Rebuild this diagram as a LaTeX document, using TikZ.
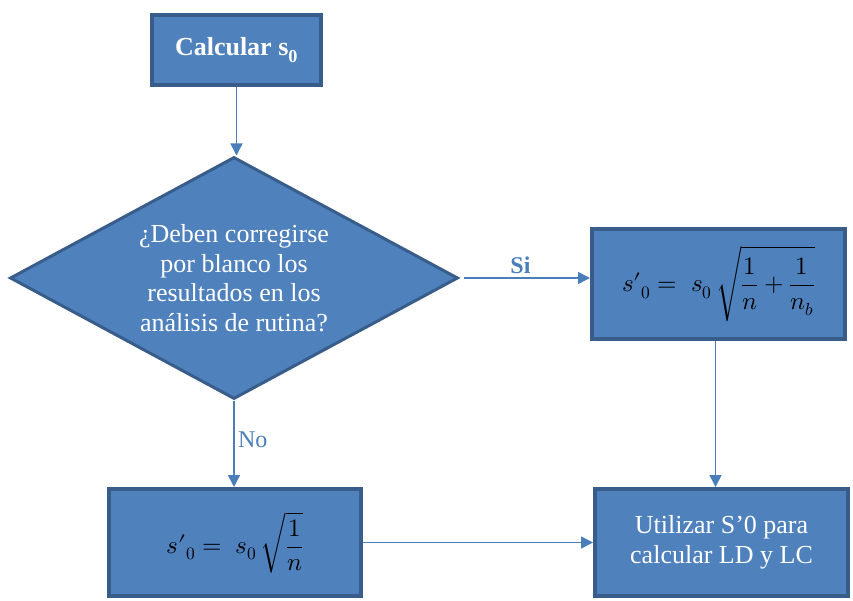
\documentclass[tikz,border=0pt]{standalone}
\usepackage{fontspec}
\usepackage{unicode-math}
\setmainfont{Liberation Serif}
\setmathfont{Latin Modern Math}
\usetikzlibrary{shapes.geometric,arrows.meta}
\definecolor{boxfill}{HTML}{4F81BD}
\definecolor{boxline}{HTML}{385D8A}
\definecolor{conn}{HTML}{4A7EBB}
\tikzset{
  procbox/.style={draw=boxline, line width=4pt, fill=boxfill, inner sep=0pt, text=white, align=center, font=\fontsize{26}{30}\selectfont},
  mathbox/.style={procbox, text=black, font=\fontsize{25}{30}\selectfont},
  decbox/.style={diamond, draw=boxline, line width=3pt, fill=boxfill, inner sep=0pt, text=white, align=center, aspect=1.85, font=\fontsize{26}{29.5}\selectfont},
  flow/.style={draw=conn, line width=1.5pt, -{Triangle[length=12pt,width=12pt]}},
  lbl/.style={text=conn, font=\fontsize{24}{28}\selectfont}
}
\begin{document}
\begin{tikzpicture}[x=1pt,y=-1pt]
\useasboundingbox (0,0) rectangle (853,601);
\node[procbox, minimum width=169pt, minimum height=70pt] (calc) at (236.5,50) {\bfseries Calcular s\textsubscript{0}};
\node[decbox, minimum width=448pt, minimum height=242pt] (dec) at (234,278) {¿Deben corregirse\\por blanco los\\resultados en los\\análisis de rutina?};
\node[mathbox, minimum width=253pt, minimum height=110pt] (si) at (718.5,284) {$\displaystyle {s\prime}_{0} =\; s_0\,\sqrt{\frac{1}{n}+\frac{1}{n_b}}$};
\node[mathbox, minimum width=252pt, minimum height=107pt] (no) at (235,542.5) {$\displaystyle {s\prime}_{0} =\; s_0\,\sqrt{\frac{1}{n}}$};
\node[procbox, minimum width=253pt, minimum height=107pt] (ld) at (721.5,542.5) {Utilizar S’0 para\\calcular LD y LC};
\draw[flow] (calc.south) -- (calc.south |- dec.north);
\draw[flow] ([xshift=4pt]dec.east) -- node[lbl, above, pos=0.45, font=\fontsize{24}{28}\selectfont\bfseries] (silbl) {Si} (dec.east -| si.west);
\draw[flow] ([xshift=-3pt]si.south) -- ([xshift=-3pt]si.south |- ld.north);
\draw[flow] (dec.south) -- node[lbl, right, pos=0.45] (nolbl) {No} (dec.south |- no.north);
\draw[flow] (no.east) -- (ld.west);
\end{tikzpicture}
\end{document}
